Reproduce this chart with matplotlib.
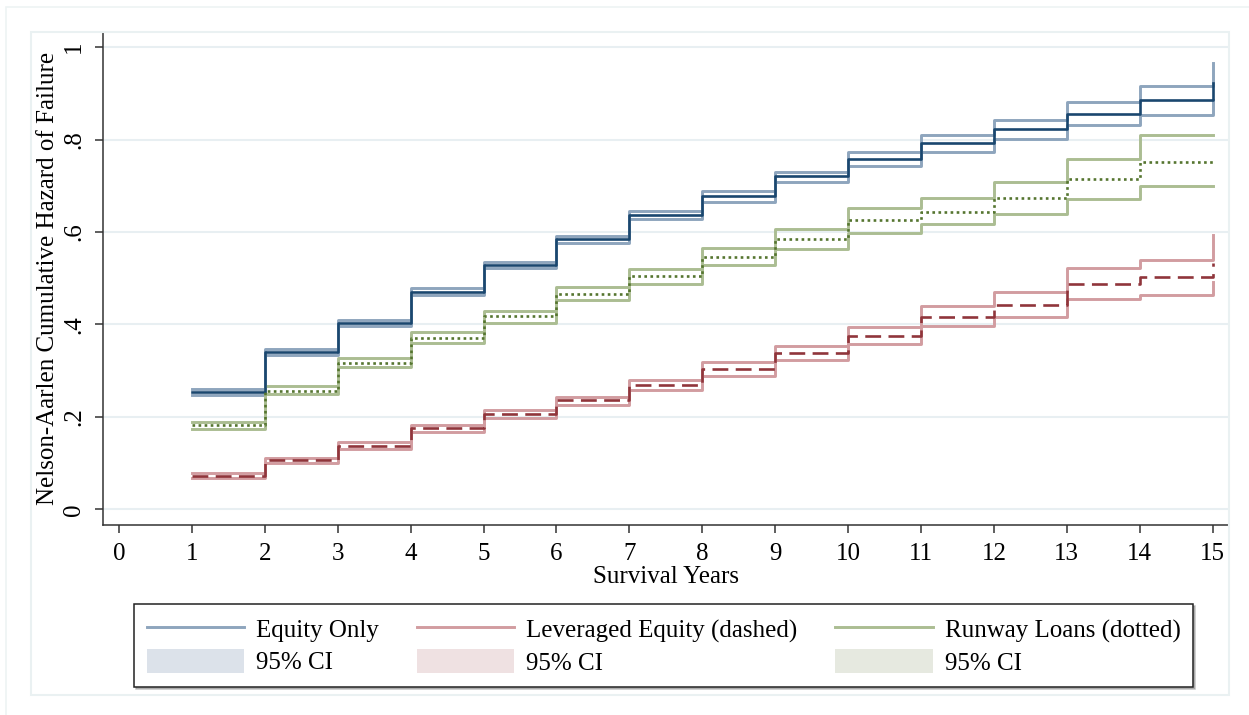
import matplotlib
matplotlib.use("Agg")
import matplotlib.pyplot as plt
from matplotlib.lines import Line2D
from matplotlib.patches import Patch, Rectangle

# Nelson-Aalen cumulative hazard by financing group (event times in years)
years = [1, 2, 3, 4, 5, 6, 7, 8, 9, 10, 11, 12, 13, 14, 15]

equity_est = [0.254, 0.341, 0.403, 0.471, 0.529, 0.585, 0.638, 0.677, 0.721, 0.759, 0.792, 0.822, 0.856, 0.885, 0.923]
equity_lo = [0.248, 0.335, 0.397, 0.464, 0.522, 0.576, 0.629, 0.666, 0.708, 0.744, 0.773, 0.802, 0.831, 0.853, 0.885]
equity_hi = [0.260, 0.347, 0.409, 0.478, 0.535, 0.591, 0.645, 0.688, 0.731, 0.773, 0.809, 0.843, 0.882, 0.916, 0.965]

levered_est = [0.073, 0.106, 0.138, 0.175, 0.2065, 0.236, 0.269, 0.303, 0.339, 0.375, 0.417, 0.443, 0.487, 0.502, 0.534]
levered_lo = [0.067, 0.0997, 0.131, 0.167, 0.198, 0.226, 0.2585, 0.2895, 0.323, 0.358, 0.396, 0.417, 0.456, 0.464, 0.493]
levered_hi = [0.079, 0.112, 0.146, 0.183, 0.2145, 0.244, 0.280, 0.318, 0.354, 0.394, 0.439, 0.470, 0.523, 0.540, 0.594]

runway_est = [0.183, 0.257, 0.316, 0.370, 0.419, 0.466, 0.504, 0.547, 0.585, 0.626, 0.643, 0.673, 0.714, 0.752, 0.752]
runway_lo = [0.174, 0.249, 0.308, 0.359, 0.404, 0.452, 0.487, 0.528, 0.564, 0.599, 0.617, 0.640, 0.672, 0.700, 0.700]
runway_hi = [0.190, 0.2665, 0.328, 0.383, 0.430, 0.482, 0.521, 0.565, 0.607, 0.653, 0.674, 0.708, 0.759, 0.809, 0.809]

group_labels = ["Equity Only", "Leveraged Equity (dashed)", "Runway Loans (dotted)"]
ci_label = "95% CI"
x_ticks = list(range(0, 16))
y_ticks = [0, 0.2, 0.4, 0.6, 0.8, 1.0]
y_tick_labels = ["0", ".2", ".4", ".6", ".8", "1"]

plt.rcParams["font.family"] = ["Liberation Serif", "DejaVu Serif"]
FS = 18

W, H = 1249, 715
fig = plt.figure(figsize=(W / 100, H / 100), dpi=100)

# faint outer and inner frames of the graph region
fig.add_artist(Rectangle((6 / W, -0.05), 1.1, 1 - 7 / H + 0.05, transform=fig.transFigure,
                         fill=False, edgecolor="#eef3f4", lw=1.2))
fig.add_artist(Rectangle((31 / W, 1 - 695 / H), (1229 - 31) / W, (695 - 32) / H,
                         transform=fig.transFigure, fill=False, edgecolor="#eaf1f2", lw=1.5))

ax = fig.add_axes([103 / W, 1 - 525 / H, (1229 - 103) / W, (525 - 32) / H])

ax.set_xlim(-0.22, 15.225)
ax.set_ylim(-0.034, 1.033)

for s in ("top", "right"):
    ax.spines[s].set_visible(False)
for s in ("left", "bottom"):
    ax.spines[s].set_color("#333333")
    ax.spines[s].set_linewidth(1.1)

ax.set_yticks(y_ticks)
ax.set_yticklabels(y_tick_labels, rotation=90, va="center")
ax.set_xticks(x_ticks)
ax.tick_params(axis="both", direction="out", length=6, width=1.1, color="#333333",
               labelsize=FS, pad=7)
ax.grid(axis="y", color="#e8eff2", lw=1.5)
ax.set_axisbelow(True)

ax.set_xlabel("Survival Years", fontsize=FS, labelpad=1)
ax.set_ylabel("Nelson-Aarlen Cumulative Hazard of Failure", fontsize=FS, labelpad=3)

dark = {"equity": "#1a476f", "levered": "#90353b", "runway": "#55752f"}
light = {"equity": "#8ea5bd", "levered": "#d29ca0", "runway": "#abbd92"}
fill = {"equity": "#dce2ea", "levered": "#efe1e2", "runway": "#e6e9e0"}

series = [
    ("equity", equity_est, equity_lo, equity_hi, "-"),
    ("levered", levered_est, levered_lo, levered_hi, (0, (6, 2.8))),
    ("runway", runway_est, runway_lo, runway_hi, (0, (1, 1.3))),
]

# confidence bounds first, then the estimates on top
for key, est, lo, hi, ls in series:
    ax.plot(years, lo, drawstyle="steps-post", color=light[key], lw=2.1, zorder=2)
    ax.plot(years, hi, drawstyle="steps-post", color=light[key], lw=2.1, zorder=2)
for key, est, lo, hi, ls in series:
    ax.plot(years, est, drawstyle="steps-post", color=dark[key], lw=1.9, ls=ls,
            dash_capstyle="butt", zorder=3)

handles = []
for key, *_ in series:
    handles.append(Line2D([], [], color=light[key], lw=2.1))
    handles.append(Patch(facecolor=fill[key], edgecolor="none"))
labels = []
for lab in group_labels:
    labels += [lab, ci_label]

leg = fig.legend(handles, labels, ncol=3, loc="lower left",
                 bbox_to_anchor=(134 / W, 1 - 687 / H, (1193 - 134) / W, (687 - 606) / H),
                 mode="expand", borderaxespad=0, fontsize=FS, frameon=True,
                 fancybox=False, edgecolor="#222222", handlelength=3.9, handleheight=1.1,
                 handletextpad=0.48, labelspacing=0.25, borderpad=0.5,
                 shadow={"ox": 1.5, "oy": -1.5, "color": "#888888"})
leg.get_frame().set_linewidth(1.1)

fig.savefig("out.png", dpi=100)
